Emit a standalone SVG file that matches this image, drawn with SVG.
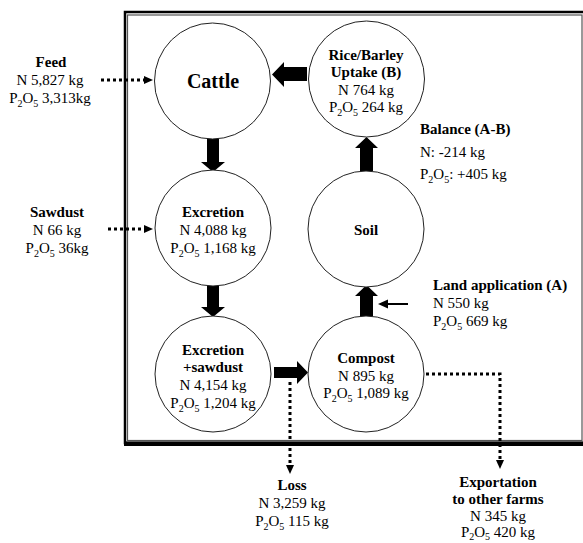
<svg xmlns="http://www.w3.org/2000/svg" width="583" height="543" viewBox="0 0 583 543">
<style>
.t{font-family:"Liberation Serif","Times New Roman",serif;font-size:15px;fill:#000;text-anchor:middle}
.b{font-weight:bold}
.l{text-anchor:start}
.s{font-size:10px}
.big{font-size:20px}
.node{fill:#fff;stroke:#222;stroke-width:1}
.blk{fill:#000}
.dot{fill:none;stroke:#000;stroke-width:3;stroke-dasharray:3 3}
</style>
<rect width="583" height="543" fill="#fff"/>
<g id="frame">
<rect x="125" y="12" width="470" height="431" fill="none" stroke="#000" stroke-width="2.5"/>
<rect x="124" y="441.5" width="470" height="4.5" fill="#000"/>
<rect x="127.5" y="15" width="454.5" height="425.5" fill="none" stroke="#555" stroke-width="1.2"/>
</g>
<g id="connectors">
<polygon class="blk" points="207,137 219,137 219,162 225,162 213,172 201,162 207,162"/>
<polygon class="blk" points="207,285 219,285 219,307 225,307 213,317 201,307 207,307"/>
<polygon class="blk" points="274,367 297,367 297,361 308,372.5 297,384 297,378 274,378"/>
<polygon class="blk" points="360,171 373,171 373,148 378,148 366.5,137 355,148 360,148"/>
<polygon class="blk" points="360,317 373,317 373,296 378,296 366.5,285 355,296 360,296"/>
<polygon class="blk" points="307,67 284,67 284,62 272,74.5 284,87 284,81 307,81"/>
<line x1="408" y1="304" x2="385" y2="304" stroke="#000" stroke-width="2"/>
<polygon class="blk" points="378,304 388,299.5 388,308.5"/>
<line class="dot" x1="101" y1="80" x2="145" y2="80"/>
<polygon class="blk" points="153,80 144,76 144,84"/>
<line class="dot" x1="108" y1="229" x2="145" y2="229"/>
<polygon class="blk" points="153,229 144,225 144,233"/>
<line class="dot" x1="290" y1="382" x2="290" y2="465"/>
<polygon class="blk" points="290,474 286,465 294,465"/>
<polyline class="dot" points="426,374 500,374 500,460"/>
<polygon class="blk" points="500,469 496,460 504,460"/>
</g>
<g id="cattle">
<circle class="node" cx="212.5" cy="81" r="58"/>
<text class="t b big" x="213" y="88">Cattle</text>
</g>
<g id="rice">
<circle class="node" cx="366.5" cy="79" r="58"/>
<text class="t b" x="366" y="60">Rice/Barley</text>
<text class="t b" x="366" y="77">Uptake (B)</text>
<text class="t" x="366" y="95">N 764 kg</text>
<text class="t" x="366" y="112">P<tspan class="s" dy="4">2</tspan><tspan dy="-4">O</tspan><tspan class="s" dy="4">5</tspan><tspan dy="-4"> 264 kg</tspan></text>
</g>
<g id="excretion">
<circle class="node" cx="213" cy="228" r="58"/>
<text class="t b" x="213" y="217">Excretion</text>
<text class="t" x="213" y="235">N 4,088 kg</text>
<text class="t" x="213" y="253">P<tspan class="s" dy="4">2</tspan><tspan dy="-4">O</tspan><tspan class="s" dy="4">5</tspan><tspan dy="-4"> 1,168 kg</tspan></text>
</g>
<g id="soil">
<circle class="node" cx="366" cy="229" r="58"/>
<text class="t b" x="366" y="235">Soil</text>
</g>
<g id="excretion-sawdust">
<circle class="node" cx="213" cy="374" r="58"/>
<text class="t b" x="213" y="355">Excretion</text>
<text class="t b" x="213" y="372">+sawdust</text>
<text class="t" x="213" y="390">N 4,154 kg</text>
<text class="t" x="213" y="408">P<tspan class="s" dy="4">2</tspan><tspan dy="-4">O</tspan><tspan class="s" dy="4">5</tspan><tspan dy="-4"> 1,204 kg</tspan></text>
</g>
<g id="compost">
<circle class="node" cx="366" cy="374" r="58"/>
<text class="t b" x="366" y="363">Compost</text>
<text class="t" x="366" y="381">N 895 kg</text>
<text class="t" x="366" y="398">P<tspan class="s" dy="4">2</tspan><tspan dy="-4">O</tspan><tspan class="s" dy="4">5</tspan><tspan dy="-4"> 1,089 kg</tspan></text>
</g>
<g id="feed">
<text class="t b" x="51" y="67">Feed</text>
<text class="t" x="50" y="85">N 5,827 kg</text>
<text class="t" x="50" y="103">P<tspan class="s" dy="4">2</tspan><tspan dy="-4">O</tspan><tspan class="s" dy="4">5</tspan><tspan dy="-4"> 3,313kg</tspan></text>
</g>
<g id="sawdust">
<text class="t b" x="57" y="217">Sawdust</text>
<text class="t" x="57" y="235">N 66 kg</text>
<text class="t" x="57" y="253">P<tspan class="s" dy="4">2</tspan><tspan dy="-4">O</tspan><tspan class="s" dy="4">5</tspan><tspan dy="-4"> 36kg</tspan></text>
</g>
<g id="balance">
<text class="t b l" x="420" y="134">Balance (A-B)</text>
<text class="t l" x="420" y="157">N: -214 kg</text>
<text class="t l" x="420" y="179">P<tspan class="s" dy="4">2</tspan><tspan dy="-4">O</tspan><tspan class="s" dy="4">5</tspan><tspan dy="-4">: +405 kg</tspan></text>
</g>
<g id="land-application">
<text class="t b l" x="433" y="290">Land application (A)</text>
<text class="t l" x="433" y="308">N 550 kg</text>
<text class="t l" x="433" y="326">P<tspan class="s" dy="4">2</tspan><tspan dy="-4">O</tspan><tspan class="s" dy="4">5</tspan><tspan dy="-4"> 669 kg</tspan></text>
</g>
<g id="loss">
<text class="t b" x="292" y="490">Loss</text>
<text class="t" x="292" y="508">N 3,259 kg</text>
<text class="t" x="292" y="526">P<tspan class="s" dy="4">2</tspan><tspan dy="-4">O</tspan><tspan class="s" dy="4">5</tspan><tspan dy="-4"> 115 kg</tspan></text>
</g>
<g id="exportation">
<text class="t b" x="498" y="487">Exportation</text>
<text class="t b" x="498" y="504">to other farms</text>
<text class="t" x="498" y="521">N 345 kg</text>
<text class="t" x="498" y="537">P<tspan class="s" dy="3">2</tspan><tspan dy="-3">O</tspan><tspan class="s" dy="3">5</tspan><tspan dy="-3"> 420 kg</tspan></text>
</g>
</svg>
